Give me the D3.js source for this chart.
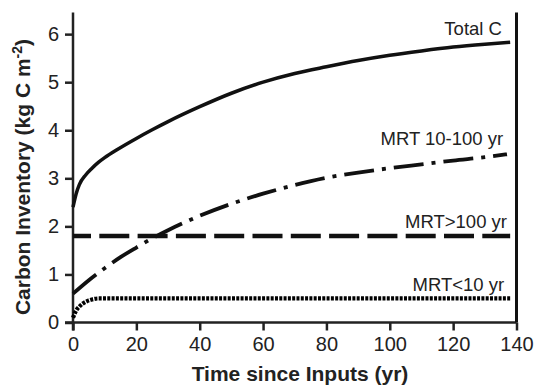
<!DOCTYPE html>
<html>
<head>
<meta charset="utf-8">
<script src="https://cdn.jsdelivr.net/npm/d3@7"></script>
<style>
  body { margin: 0; background: #fff; }
  svg { font-family: "Liberation Sans", Arial, Helvetica, sans-serif; }
</style>
</head>
<body>
<svg id="chart" width="536" height="387"></svg>
<script>
// values (kg C m-2 vs years)
var totalYears = [0, 1, 2, 4, 6, 8, 10, 14, 20, 25, 30, 40, 50, 60, 70, 80, 90, 100, 110, 120, 130, 138];
var totalC     = [2.4, 2.68, 2.87, 3.07, 3.21, 3.33, 3.43, 3.6, 3.83, 4.01, 4.18, 4.49, 4.77, 5.0, 5.18, 5.32, 5.45, 5.56, 5.65, 5.73, 5.79, 5.83];

var midYears = [0, 5, 10, 15, 20, 25, 30, 40, 50, 60, 70, 80, 90, 100, 110, 120, 130, 137];
var midC     = [0.6, 0.88, 1.13, 1.36, 1.56, 1.75, 1.92, 2.22, 2.47, 2.68, 2.86, 3.01, 3.12, 3.21, 3.29, 3.37, 3.44, 3.5];

var slowYears = [0, 138];
var slowC     = [1.8, 1.8];

var fastYears = [0, 0.5, 1, 2, 3, 4, 5, 6, 8, 10, 40, 80, 120, 138];
var fastC     = [0.1, 0.18, 0.25, 0.33, 0.39, 0.43, 0.46, 0.48, 0.5, 0.5, 0.5, 0.5, 0.5, 0.5];

var xTicks = [0, 20, 40, 60, 80, 100, 120, 140];
var yTicks = [0, 1, 2, 3, 4, 5, 6];

var seriesNames = ['Total C', 'MRT 10-100 yr', 'MRT>100 yr', 'MRT<10 yr'];

var svg = d3.select('#chart');

var x = d3.scaleLinear().domain([0, 140]).range([73, 516.5]);
var y = d3.scaleLinear().domain([0, 6.45]).range([322.5, 12.5]);

function zip(xs, ys) {
  return xs.map(function(t, i){ return [t, ys[i]]; });
}

// axes
var xAxis = svg.append('g')
  .attr('transform', 'translate(0,' + y(0) + ')')
  .call(d3.axisBottom(x).tickValues(xTicks).tickFormat(d3.format('d'))
    .tickSize(8).tickPadding(6).tickSizeOuter(0));
var yAxis = svg.append('g')
  .attr('transform', 'translate(' + x(0) + ',0)')
  .call(d3.axisLeft(y).tickValues(yTicks).tickFormat(d3.format('d'))
    .tickSize(8).tickPadding(6).tickSizeOuter(0));

[xAxis, yAxis].forEach(function(ax){
  ax.selectAll('.domain').attr('stroke', '#222').attr('stroke-width', 2.5);
  ax.selectAll('.tick line').attr('stroke', '#222').attr('stroke-width', 2.5);
  ax.selectAll('.tick text').attr('fill', '#222').style('font-size', '20px')
    .style('font-family', '"Liberation Sans", Arial, sans-serif');
});
xAxis.select('.domain').attr('d', 'M' + (x(0) - 8) + ',0H' + x(140));
yAxis.select('.domain').attr('d', 'M0,' + (y(0) + 8) + 'V' + y(6.45));

// right border
svg.append('line')
  .attr('x1', x(140)).attr('x2', x(140))
  .attr('y1', y(6.45)).attr('y2', y(0))
  .attr('stroke', '#111').attr('stroke-width', 3);

var line = d3.line()
  .x(function(d){ return x(d[0]); })
  .y(function(d){ return y(d[1]); })
  .curve(d3.curveMonotoneX);

svg.append('path').datum(zip(totalYears, totalC))
  .attr('d', line).attr('fill', 'none').attr('stroke', '#111').attr('stroke-width', 3.5);

svg.append('path').datum(zip(midYears, midC))
  .attr('d', line).attr('fill', 'none').attr('stroke', '#111').attr('stroke-width', 3.8)
  .attr('stroke-dasharray', '30,8,4,8');

svg.append('path').datum(zip(slowYears, slowC))
  .attr('d', line).attr('fill', 'none').attr('stroke', '#111').attr('stroke-width', 4.6)
  .attr('stroke-dasharray', '30,8.3').attr('stroke-dashoffset', 12);

svg.append('path').datum(zip(fastYears, fastC))
  .attr('d', line).attr('fill', 'none').attr('stroke', '#000').attr('stroke-width', 4.2)
  .attr('stroke-dasharray', '3,1.3');

// series labels
var labelPos = [[135.4, 5.98], [135.8, 3.69], [137, 1.97], [136.1, 0.66]];
svg.selectAll('.lbl').data(seriesNames).enter().append('text')
  .attr('class', 'lbl')
  .attr('x', function(d, i){ return x(labelPos[i][0]); })
  .attr('y', function(d, i){ return y(labelPos[i][1]); })
  .attr('text-anchor', 'end')
  .attr('fill', '#222')
  .style('font-size', '18.5px')
  .text(function(d){ return d; });

// axis titles
svg.append('text')
  .attr('x', 300).attr('y', 381)
  .attr('text-anchor', 'middle')
  .attr('fill', '#222')
  .style('font-size', '21px').style('font-weight', 'bold')
  .text('Time since Inputs (yr)');

var yt = svg.append('text')
  .attr('transform', 'translate(30,177) rotate(-90)')
  .attr('text-anchor', 'middle')
  .attr('fill', '#222')
  .style('font-size', '21px').style('font-weight', 'bold');
yt.append('tspan').text('Carbon Inventory (kg C m');
yt.append('tspan').attr('dy', -8).style('font-size', '14px').text('-2');
yt.append('tspan').attr('dy', 8).text(')');
</script>
</body>
</html>
